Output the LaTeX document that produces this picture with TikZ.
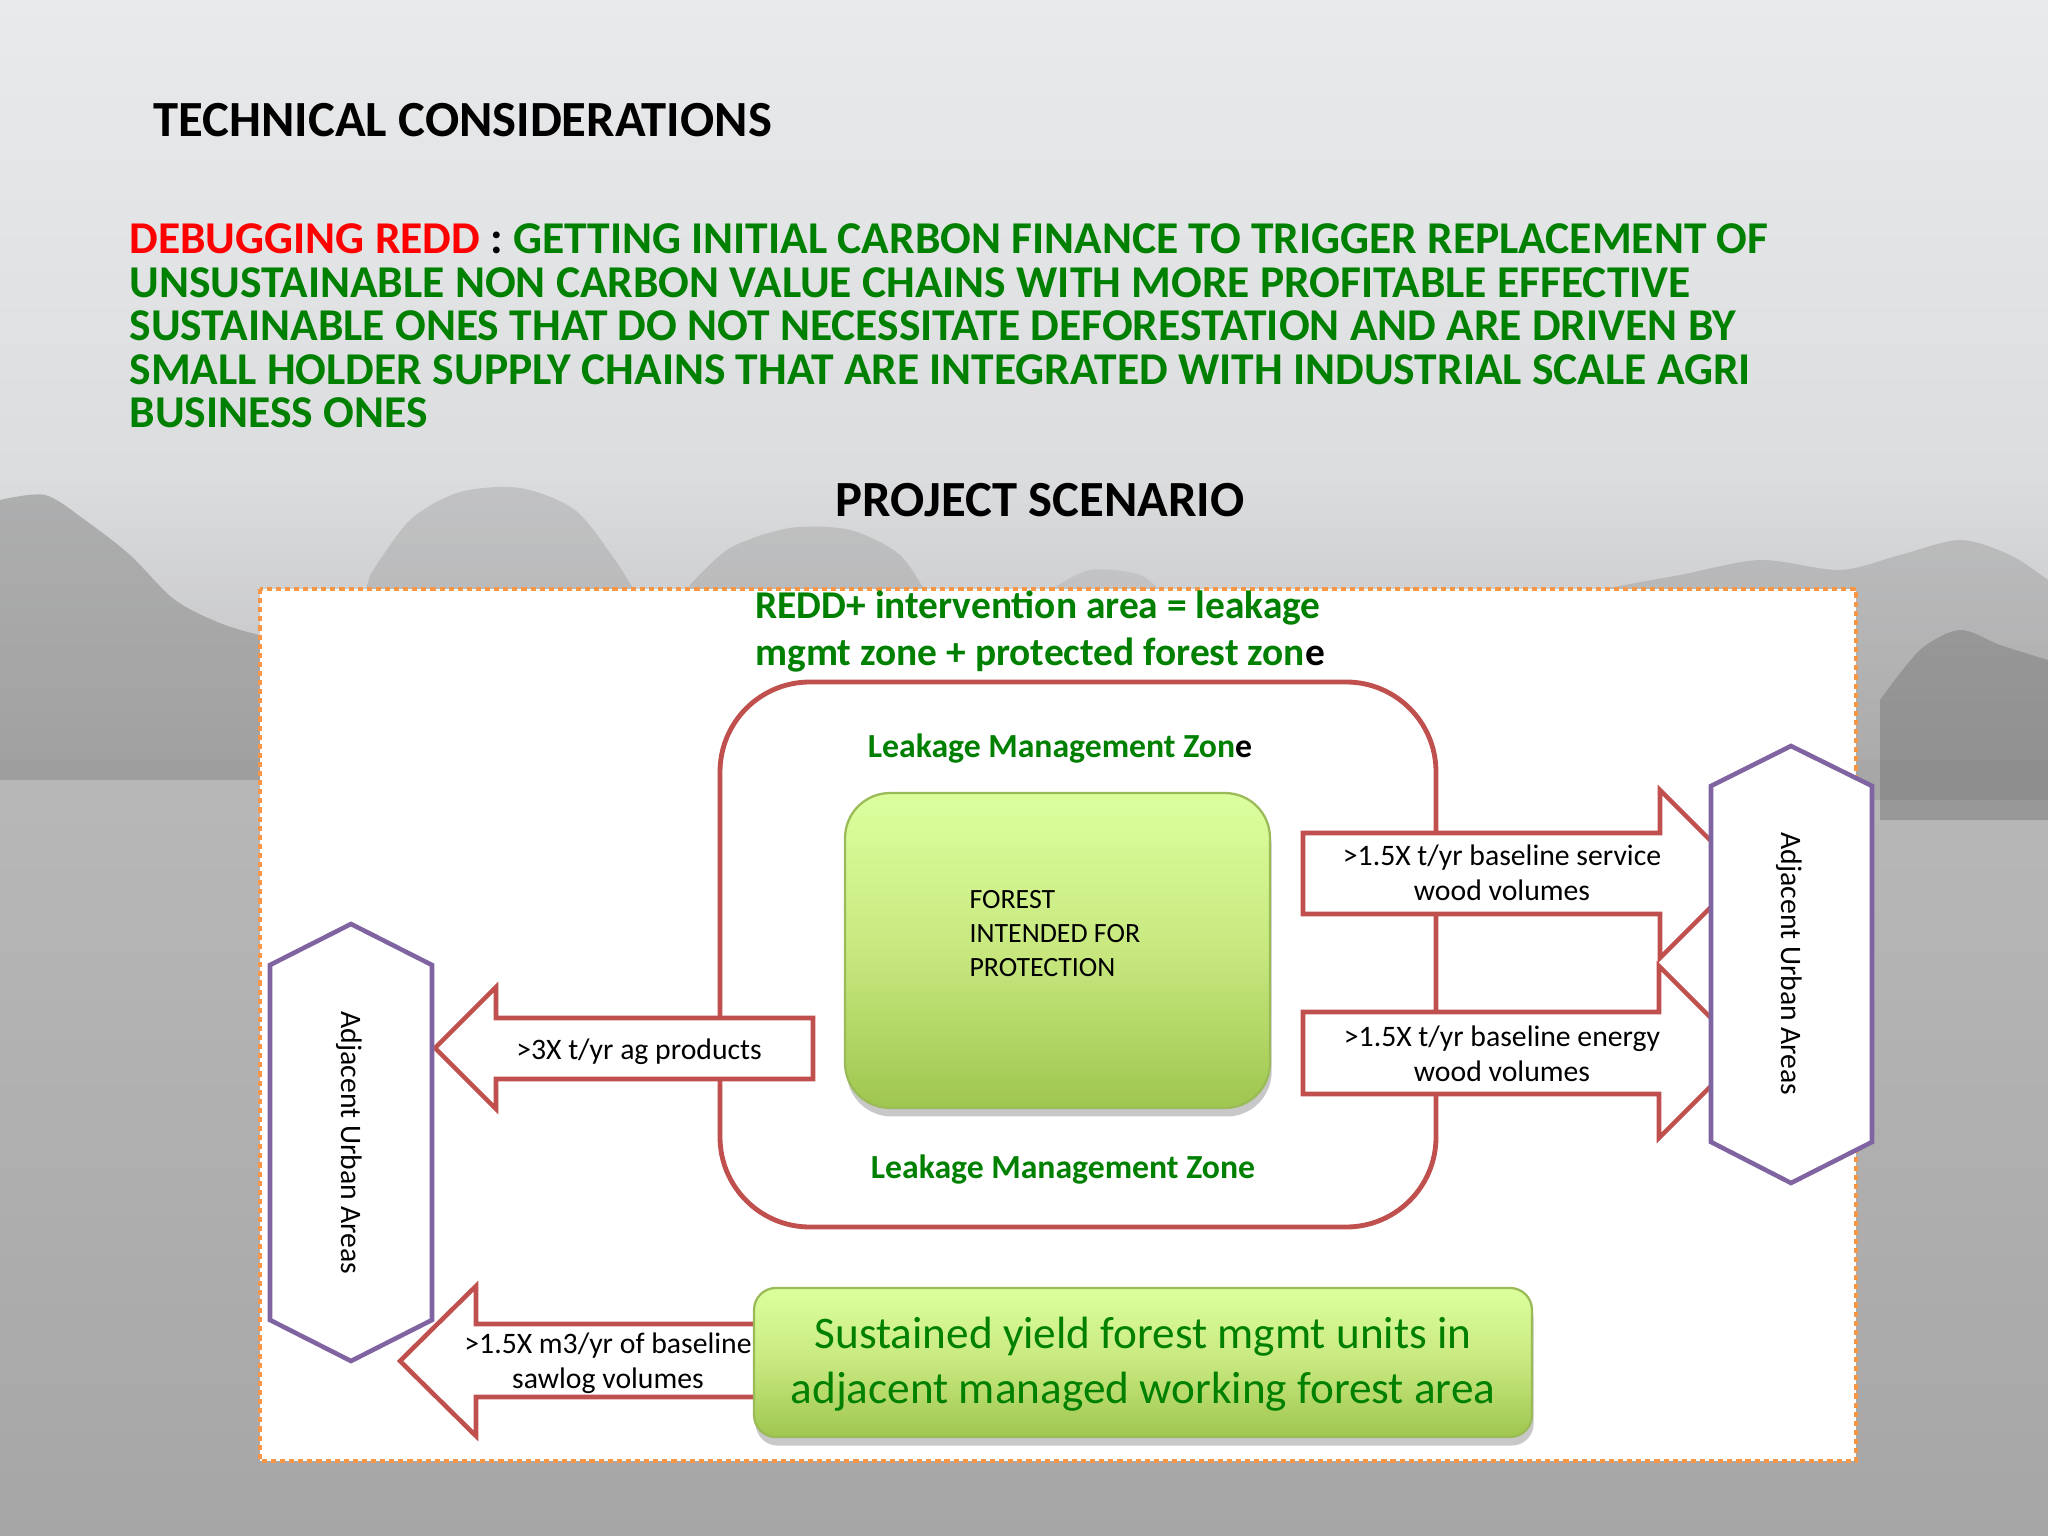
\documentclass[tikz,border=0pt]{standalone}
\usepackage{fontspec}
\setmainfont{Carlito}
\usetikzlibrary{shadows}
\definecolor{redc}{HTML}{C0504D}
\definecolor{purc}{HTML}{8064A2}
\definecolor{grn}{HTML}{008000}
\definecolor{orng}{HTML}{F79646}
\definecolor{boxtop}{HTML}{DCFF9E}
\definecolor{boxmid}{HTML}{C8E87F}
\definecolor{boxbot}{HTML}{9FC64F}
\definecolor{boxline}{HTML}{9BBB59}
\definecolor{bgA}{HTML}{E9EAEC}
\definecolor{bgB}{HTML}{DCDDDF}
\definecolor{bgC}{HTML}{BEBEBF}
\definecolor{bgD}{HTML}{B8B8B8}
\definecolor{bgE}{HTML}{A6A6A6}
\definecolor{treec}{HTML}{8A8A8A}
\newcommand{\fsz}[2]{\fontsize{#1}{#2}\selectfont}
\begin{document}
\begin{tikzpicture}[x=0.3515625pt,y=-0.3515625pt,
  redline/.style={draw=redc, line width=1.7pt},
  arrowshape/.style={draw=redc, line width=1.6pt, fill=white, line join=miter},
  hexshape/.style={draw=purc, line width=1.6pt, fill=white, line join=miter},
  gbox/.style={draw=boxline, line width=0.8pt, top color=boxtop, bottom color=boxbot, middle color=boxmid,
    drop shadow={shadow xshift=0.6pt, shadow yshift=-3pt, opacity=.3, fill=black!70}},
  txt/.style={inner sep=0pt, text=black},
  frame/.style={draw=orng, line width=1.6pt, dash pattern=on 1.8pt off 1.4pt, fill=white}]
\useasboundingbox (0,0) rectangle (2048,1536);
% background
\shade[top color=bgA,bottom color=bgB] (0,0) rectangle (2048,470);
\shade[top color=bgB,bottom color=bgC] (0,470) rectangle (2048,760);
\shade[top color=bgD,bottom color=bgE] (0,760) rectangle (2048,1536);
\fill[treec,opacity=.55] (0,780) -- plot[smooth] coordinates {(0,500) (45,495) (85,520) (130,555) (175,600) (225,625) (280,640) (330,650)} -- (330,780) -- cycle;
\fill[treec,opacity=.3] (360,610) -- plot[smooth] coordinates {(370,575) (410,520) (460,492) (520,488) (575,510) (615,560) (640,600)} -- cycle;
\fill[treec,opacity=.3] (680,610) -- plot[smooth] coordinates {(690,585) (730,548) (790,528) (850,530) (900,555) (930,600)} -- cycle;
\fill[treec,opacity=.2] (1040,610) -- plot[smooth] coordinates {(1050,590) (1090,570) (1140,575) (1170,600)} -- cycle;
\fill[treec,opacity=.35] (1450,800) -- plot[smooth] coordinates {(1470,640) (1530,610) (1600,590) (1680,575) (1760,560) (1840,570) (1900,555) (1960,540) (2010,555) (2048,580)} -- (2048,800) -- cycle;
\fill[treec!70!black,opacity=.35] (1880,820) -- plot[smooth] coordinates {(1880,700) (1920,650) (1960,630) (2000,645) (2048,660)} -- (2048,820) -- cycle;
% titles
\node[txt, anchor=base west, font=\bfseries\fsz{17.8}{21}] (title) at (153,137) {TECHNICAL CONSIDERATIONS};
\node[txt, anchor=base west, align=left, text=grn, font=\bfseries\fsz{16.0}{15.3}] (para) at (129,428)
 {\textcolor{red}{DEBUGGING REDD} \textcolor{black}{:} GETTING INITIAL CARBON FINANCE TO TRIGGER REPLACEMENT OF\\
  UNSUSTAINABLE NON CARBON VALUE CHAINS WITH MORE PROFITABLE EFFECTIVE\\
  SUSTAINABLE ONES THAT DO NOT NECESSITATE DEFORESTATION AND ARE DRIVEN BY\\
  SMALL HOLDER SUPPLY CHAINS THAT ARE INTEGRATED WITH INDUSTRIAL SCALE AGRI\\
  BUSINESS ONES};
\node[txt, anchor=base, font=\bfseries\fsz{17.8}{21}] (scen) at (1040,517) {PROJECT SCENARIO};
% frame
\draw[frame] (260,589) rectangle (1856,1461);
\node[txt, anchor=base west, align=left, text=grn, font=\bfseries\fsz{13.85}{16.2}] (redd) at (755,665)
 {REDD+ intervention area = leakage\\mgmt zone + protected forest zon\textcolor{black}{e}};
% leakage zone
\draw[redline, rounded corners=31.6pt] (720,682) rectangle (1436,1227);
\node[txt, anchor=base, text=grn, font=\bfseries\fsz{11.85}{14}] (lmz1) at (1060,757) {Leakage Management Zon\textcolor{black}{e}};
\node[txt, anchor=base, text=grn, font=\bfseries\fsz{11.85}{14}] (lmz2) at (1063,1178) {Leakage Management Zone};
% arrows
\draw[arrowshape] (813,1018) -- (496,1018) -- (496,987) -- (435,1048) -- (496,1109) -- (496,1079) -- (813,1079) -- cycle;
\draw[arrowshape] (800,1324) -- (476,1324) -- (476,1286) -- (400,1361) -- (476,1436) -- (476,1397) -- (800,1397) -- cycle;
\draw[arrowshape] (1303,833) -- (1660,833) -- (1660,790) -- (1744,874) -- (1660,958) -- (1660,914) -- (1303,914) -- cycle;
\draw[arrowshape] (1303,1012) -- (1659,1012) -- (1659,966) -- (1745,1052) -- (1659,1138) -- (1659,1094) -- (1303,1094) -- cycle;
% hexagons
\draw[hexshape] (351,924) -- (432,965) -- (432,1320) -- (351,1361) -- (270,1320) -- (270,965) -- cycle;
\draw[hexshape] (1791,746) -- (1872,786) -- (1872,1142) -- (1791,1183) -- (1711,1142) -- (1711,786) -- cycle;
\node[txt, rotate=-90, font=\fsz{10.45}{12.5}] (urbL) at (349,1143) {Adjacent Urban Areas};
\node[txt, rotate=-90, font=\fsz{10.45}{12.5}] (urbR) at (1789,964) {Adjacent Urban Areas};
% arrow labels
\node[txt, anchor=base, font=\fsz{10.45}{12.5}] (ag) at (639,1059) {>3X t/yr ag products};
\node[txt, anchor=base, align=center, font=\fsz{10.45}{12.3}] (saw) at (608,1388) {>1.5X m3/yr of baseline\\sawlog volumes};
\node[txt, anchor=base, align=center, font=\fsz{10.45}{12.3}] (serv) at (1502,900.5) {>1.5X t/yr baseline service\\wood volumes};
\node[txt, anchor=base, align=center, font=\fsz{10.45}{12.3}] (energy) at (1502,1081) {>1.5X t/yr baseline energy\\wood volumes};
% green boxes
\node[gbox, rounded corners=15.8pt, minimum width=149.4pt, minimum height=110.7pt, inner sep=0pt] (forestbox) at (1057.5,950.5) {};
\node[txt, anchor=base west, align=left, font=\fsz{9.8}{11.8}] (foresttxt) at (969,976) {FOREST\\INTENDED FOR\\PROTECTION};
\node[gbox, rounded corners=7.7pt, minimum width=273.5pt, minimum height=52.4pt, inner sep=0pt] (sybox) at (1143,1362.5) {};
\node[txt, anchor=base, align=center, text=grn, font=\fsz{15.9}{19.3}] (sytxt) at (1143,1403) {Sustained yield forest mgmt units in\\adjacent managed working forest area};
\end{tikzpicture}
\end{document}
